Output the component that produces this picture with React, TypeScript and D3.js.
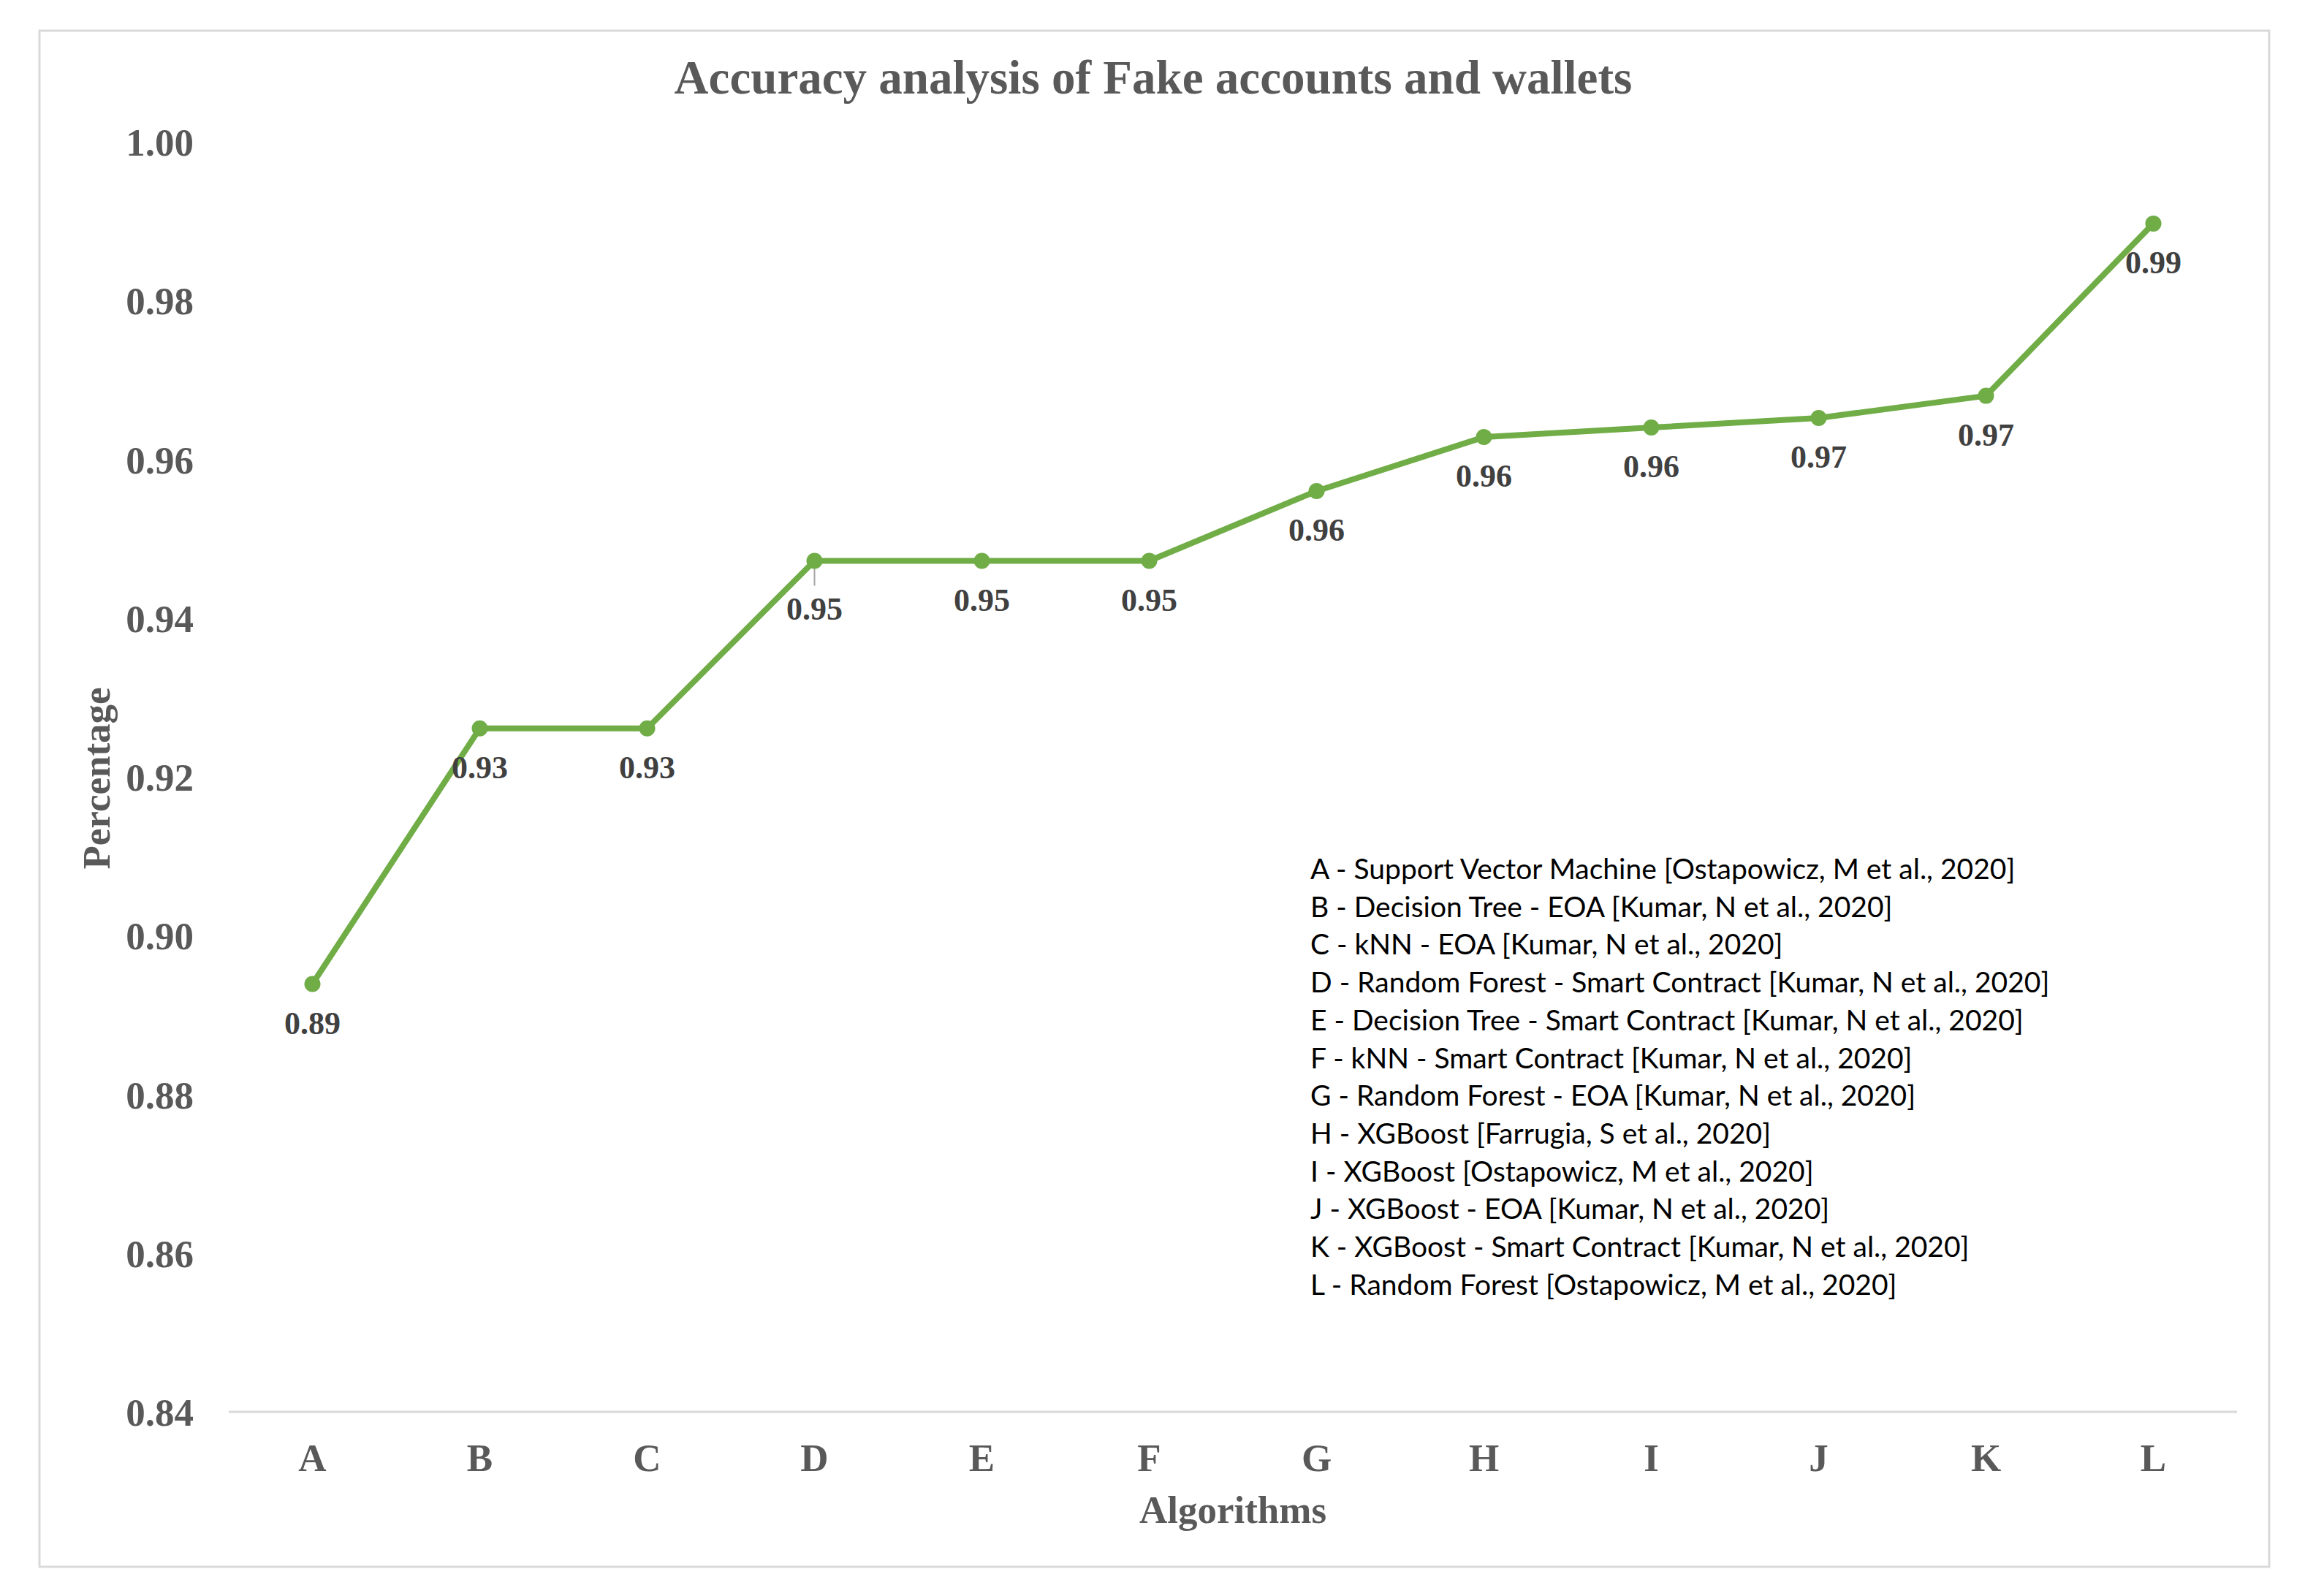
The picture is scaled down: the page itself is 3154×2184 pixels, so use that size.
import React from "react";
import * as d3 from "d3";

const categories = ["A", "B", "C", "D", "E", "F", "G", "H", "I", "J", "K", "L"];
const accuracy = [0.8939, 0.9261, 0.9261, 0.9472, 0.9472, 0.9472, 0.956, 0.9628, 0.964, 0.9652, 0.968, 0.9897];
const yTicks = [0.84, 0.86, 0.88, 0.9, 0.92, 0.94, 0.96, 0.98, 1.0];
const legendLines = [
  "A - Support Vector Machine [Ostapowicz, M et al., 2020]",
  "B - Decision Tree - EOA [Kumar, N et al., 2020]",
  "C - kNN - EOA [Kumar, N et al., 2020]",
  "D - Random Forest - Smart Contract [Kumar, N et al., 2020]",
  "E - Decision Tree - Smart Contract [Kumar, N et al., 2020]",
  "F - kNN - Smart Contract [Kumar, N et al., 2020]",
  "G - Random Forest - EOA [Kumar, N et al., 2020]",
  "H - XGBoost [Farrugia, S et al., 2020]",
  "I - XGBoost [Ostapowicz, M et al., 2020]",
  "J - XGBoost - EOA [Kumar, N et al., 2020]",
  "K - XGBoost - Smart Contract [Kumar, N et al., 2020]",
  "L - Random Forest [Ostapowicz, M et al., 2020]",
];
const title = "Accuracy analysis of Fake accounts and wallets";
const xTitle = "Algorithms";
const yTitle = "Percentage";
const leaderIndex = 3;

const W = 3154;
const H = 2184;
const plot = { left: 313, right: 3061, top: 194, bottom: 1932 };
const serif = "'Liberation Serif', 'Times New Roman', serif";
const axisColor = "#595959";
const green = "#70AD47";

export default function App() {
  const x = d3.scaleBand<string>().domain(categories).range([plot.left, plot.right]).padding(0);
  const y = d3.scaleLinear().domain([0.84, 1.0]).range([plot.bottom, plot.top]);
  const cx = (c: string) => (x(c) as number) + x.bandwidth() / 2;
  const pts = categories.map((c, i) => [cx(c), y(accuracy[i])] as [number, number]);
  const line = d3.line<[number, number]>().x((d) => d[0]).y((d) => d[1]);
  const fmt = d3.format(".2f");

  return (
    <svg
      width={W}
      height={H}
      style={{ position: "absolute", left: 0, top: 0, background: "#fff" }}
    >
      <rect x={0} y={0} width={W} height={H} fill="#fff" />
      <rect x={54} y={42} width={3051} height={2102} fill="#fff" stroke="#D9D9D9" strokeWidth={3} />
      <text
        x={1578}
        y={128}
        textAnchor="middle"
        fontFamily={serif}
        fontWeight="bold"
        fontSize={65}
        fill={axisColor}
      >
        {title}
      </text>
      {/* category axis line */}
      <line x1={plot.left} x2={plot.right} y1={y(0.84)} y2={y(0.84)} stroke="#D9D9D9" strokeWidth={3} />
      {/* y tick labels */}
      {yTicks.map((t) => (
        <text
          key={t}
          x={265}
          y={y(t) + 19}
          textAnchor="end"
          fontFamily={serif}
          fontWeight="bold"
          fontSize={53}
          fill={axisColor}
        >
          {fmt(t)}
        </text>
      ))}
      {/* x tick labels */}
      {categories.map((c) => (
        <text
          key={c}
          x={cx(c)}
          y={2013}
          textAnchor="middle"
          fontFamily={serif}
          fontWeight="bold"
          fontSize={53}
          fill={axisColor}
        >
          {c}
        </text>
      ))}
      <text
        x={(plot.left + plot.right) / 2}
        y={2084}
        textAnchor="middle"
        fontFamily={serif}
        fontWeight="bold"
        fontSize={53}
        fill={axisColor}
      >
        {xTitle}
      </text>
      <text
        transform={`translate(150, 1065) rotate(-90)`}
        textAnchor="middle"
        fontFamily={serif}
        fontWeight="bold"
        fontSize={53}
        fill={axisColor}
      >
        {yTitle}
      </text>
      {/* leader line */}
      <line
        x1={pts[leaderIndex][0]}
        x2={pts[leaderIndex][0]}
        y1={pts[leaderIndex][1]}
        y2={pts[leaderIndex][1] + 34}
        stroke="#A6A6A6"
        strokeWidth={2}
      />
      <path d={line(pts) || ""} fill="none" stroke={green} strokeWidth={8} strokeLinejoin="round" strokeLinecap="round" />
      {pts.map((p, i) => (
        <circle key={i} cx={p[0]} cy={p[1]} r={11} fill={green} />
      ))}
      {pts.map((p, i) => (
        <text
          key={"l" + i}
          x={p[0]}
          y={p[1] + (i === leaderIndex ? 80 : 68)}
          textAnchor="middle"
          fontFamily={serif}
          fontWeight="bold"
          fontSize={44}
          fill="#404040"
        >
          {fmt(accuracy[i])}
        </text>
      ))}
      {/* legend text */}
      {legendLines.map((t, i) => (
        <text
          key={t}
          x={1793}
          y={1203 + i * 51.7}
          fontFamily="Lato, 'Open Sans', sans-serif"
          fontSize={39}
          fill="#000"
        >
          {t}
        </text>
      ))}
    </svg>
  );
}
